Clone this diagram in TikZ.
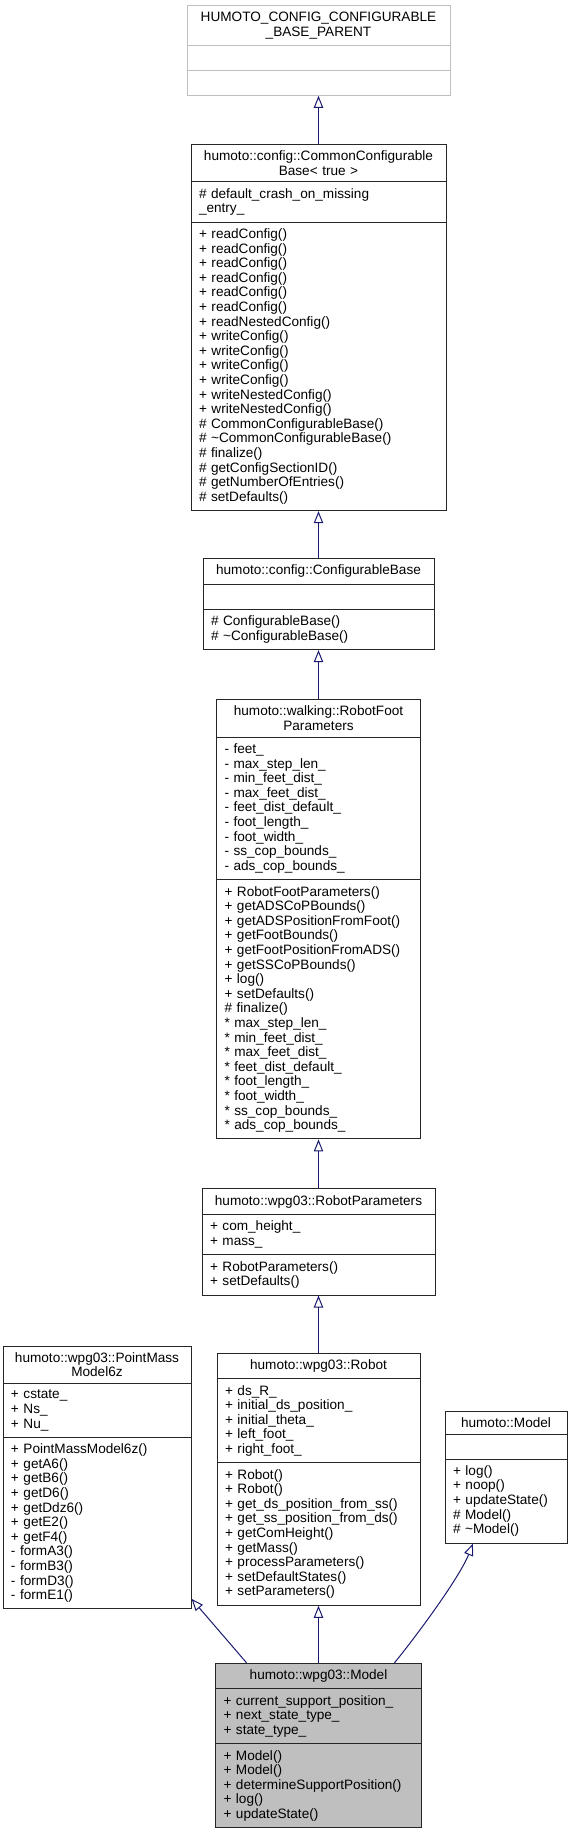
\documentclass[tikz,border=0pt]{standalone}
\usepackage{fontspec}
\setmainfont{Liberation Sans}
\usepackage{xcolor}
\usepackage{tikz}
\usetikzlibrary{shapes.multipart, arrows.meta, positioning}

\definecolor{edgeblue}{HTML}{191970}
\definecolor{classgray}{HTML}{BFBFBF}
\newcommand{\emptypart}{\rule{0pt}{9pt}}

\begin{document}
\begin{tikzpicture}[
  x=0.75pt, y=-0.75pt,
  font=\fontsize{10.2}{10.95}\selectfont,
  node distance=36.75pt,
  umlclass/.style={rectangle split, rectangle split parts=3, draw=black!85, line width=0.75pt, inner xsep=6pt, inner ysep=4.5pt},
  rootclass/.style={umlclass, draw=black!25},
  mainclass/.style={umlclass, fill=classgray},
  inherit/.style={draw=edgeblue, line width=0.75pt, -{Triangle[open, length=9pt, width=7pt]}}
]

\useasboundingbox (0,0) rectangle (572,1837);

\node (cfgparent) [rootclass, text width=185.25pt, anchor=north] at (318.5,5) {\centering HUMOTO\_CONFIG\_CONFIGURABLE\\\_BASE\_PARENT\par
  \nodepart{two}\emptypart
  \nodepart{three}\emptypart};

\node (commonbase) [umlclass, text width=179.25pt, below=36pt of cfgparent] {\centering humoto::config::CommonConfigurable\\Base< true >\par
  \nodepart{two}\# default\_crash\_on\_missing\\\_entry\_
  \nodepart{three}+ readConfig()\\+ readConfig()\\+ readConfig()\\+ readConfig()\\+ readConfig()\\+ readConfig()\\+ readNestedConfig()\\+ writeConfig()\\+ writeConfig()\\+ writeConfig()\\+ writeConfig()\\+ writeNestedConfig()\\+ writeNestedConfig()\\\# CommonConfigurableBase()\\\# \textasciitilde CommonConfigurableBase()\\\# finalize()\\\# getConfigSectionID()\\\# getNumberOfEntries()\\\# setDefaults()};

\node (cfgbase) [umlclass, text width=161.25pt, below=35.25pt of commonbase] {\centering humoto::config::ConfigurableBase\par
  \nodepart{two}\emptypart
  \nodepart{three}\# ConfigurableBase()\\\# \textasciitilde ConfigurableBase()};

\node (footparams) [umlclass, text width=141pt, below=36.75pt of cfgbase] {\centering humoto::walking::RobotFoot\\Parameters\par
  \nodepart{two}- feet\_\\- max\_step\_len\_\\- min\_feet\_dist\_\\- max\_feet\_dist\_\\- feet\_dist\_default\_\\- foot\_length\_\\- foot\_width\_\\- ss\_cop\_bounds\_\\- ads\_cop\_bounds\_
  \nodepart{three}+ RobotFootParameters()\\+ getADSCoPBounds()\\+ getADSPositionFromFoot()\\+ getFootBounds()\\+ getFootPositionFromADS()\\+ getSSCoPBounds()\\+ log()\\+ setDefaults()\\\# finalize()\\{}* max\_step\_len\_\\{}* min\_feet\_dist\_\\{}* max\_feet\_dist\_\\{}* feet\_dist\_default\_\\{}* foot\_length\_\\{}* foot\_width\_\\{}* ss\_cop\_bounds\_\\{}* ads\_cop\_bounds\_};

\node (robotparams) [umlclass, text width=162.75pt, below=36.75pt of footparams] {\centering humoto::wpg03::RobotParameters\par
  \nodepart{two}+ com\_height\_\\+ mass\_
  \nodepart{three}+ RobotParameters()\\+ setDefaults()};

\node (robot) [umlclass, text width=140.25pt, below=42.75pt of robotparams] {\centering humoto::wpg03::Robot\par
  \nodepart{two}+ ds\_R\_\\+ initial\_ds\_position\_\\+ initial\_theta\_\\+ left\_foot\_\\+ right\_foot\_
  \nodepart{three}+ Robot()\\+ Robot()\\+ get\_ds\_position\_from\_ss()\\+ get\_ss\_position\_from\_ds()\\+ getComHeight()\\+ getMass()\\+ processParameters()\\+ setDefaultStates()\\+ setParameters()};

\node (pmm) [umlclass, text width=129pt, anchor=north east] at ([xshift=-18.75pt, yshift=5.25pt]robot.north west) {\centering humoto::wpg03::PointMass\\Model6z\par
  \nodepart{two}+ cstate\_\\+ Ns\_\\+ Nu\_
  \nodepart{three}+ PointMassModel6z()\\+ getA6()\\+ getB6()\\+ getD6()\\+ getDdz6()\\+ getE2()\\+ getF4()\\- formA3()\\- formB3()\\- formD3()\\- formE1()};

\node (basemodel) [umlclass, text width=79.5pt, anchor=north west] at ([xshift=18pt, yshift=-43.5pt]robot.north east) {\centering humoto::Model\par
  \nodepart{two}\emptypart
  \nodepart{three}+ log()\\+ noop()\\+ updateState()\\\# Model()\\\# \textasciitilde Model()};

\node (model) [mainclass, text width=142.5pt, below=42.75pt of robot] {\centering humoto::wpg03::Model\par
  \nodepart{two}+ current\_support\_position\_\\+ next\_state\_type\_\\+ state\_type\_
  \nodepart{three}+ Model()\\+ Model()\\+ determineSupportPosition()\\+ log()\\+ updateState()};

\draw [inherit] (commonbase) -- (cfgparent);
\draw [inherit] (cfgbase) -- (commonbase);
\draw [inherit] (footparams) -- (cfgbase);
\draw [inherit] (robotparams) -- (footparams);
\draw [inherit] (robot) -- (robotparams);
\draw [inherit] ([xshift=-54pt]model.north) -- ([yshift=8pt]pmm.south east);
\draw [inherit] (model) -- (robot);
\draw [inherit] ([xshift=57pt]model.north) .. controls +(18pt,22pt) and +(-10pt,-25pt) .. ([xshift=-24.75pt]basemodel.south);

\end{tikzpicture}
\end{document}
